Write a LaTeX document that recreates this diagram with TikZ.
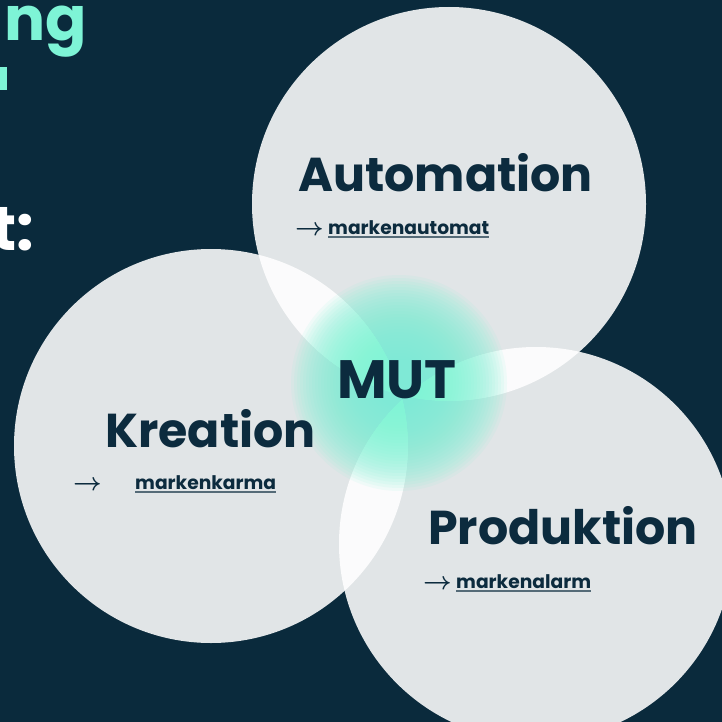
\documentclass[tikz,border=0pt]{standalone}
\usepackage{fontspec}
\setmainfont{Poppins}
\definecolor{navy}{HTML}{0A2A3C}
\definecolor{mint}{HTML}{7EF4D6}
\definecolor{ink}{HTML}{0C2B3E}

\begin{document}
\begin{tikzpicture}[x=1pt, y=-1pt,
    bubble/.style={circle, fill=white, fill opacity=.88, minimum size=394pt, inner sep=0pt},
    head/.style={anchor=base west, inner sep=0pt, text=ink, font=\fontsize{47.5}{48}\selectfont\bfseries},
    link/.style={anchor=base west, inner sep=0pt, text=ink, font=\fontsize{18.7}{19}\selectfont\bfseries},
    arrowtip/.style={anchor=base west, inner sep=0pt, text=ink, font=\fontsize{24}{24}\selectfont\boldmath}]
\useasboundingbox (0,0) rectangle (722,722);
\clip (0,0) rectangle (722,722);
\fill[navy] (0,0) rectangle (722,722);

% cut-off title on the left
\node[anchor=base east, inner sep=0pt, text=mint, font=\fontsize{61}{61}\selectfont\bfseries] (title) at (87,41) {ng};
\fill[mint] (0,67) rectangle (7,90);
\node[anchor=base east, inner sep=0pt, text=white, font=\fontsize{62}{62}\selectfont\bfseries] (colon) at (34,250) {t:};

% the three circles
\foreach \i/\x/\y in {auto/449/204, krea/211/446, prod/536/544} {
    \node[bubble] (\i) at (\x,\y) {};
}

% glow in the middle, built from thin rings
\coordinate (glow) at (399,383);
\foreach \r in {108,105,...,24} {
    \fill[mint, fill opacity=.09] (glow) circle (\r pt);
}

% labels
\node[head] (autohead) at (298,191) {Automation};
\node[arrowtip] (autoarrow) at (295,235) {$\rightarrow$};
\node[link] (autolink) at (328,234) {markenautomat};
\draw[ink!70, line width=1.5pt] ([yshift=-3pt]autolink.base west) -- ([yshift=-3pt]autolink.base east);

\node[head] (kreahead) at (105,447) {Kreation};
\node[arrowtip] (kreaarrow) at (73,490) {$\rightarrow$};
\node[link] (krealink) at (135,489) {markenkarma};
\draw[ink!70, line width=1.5pt] ([yshift=-3pt]krealink.base west) -- ([yshift=-3pt]krealink.base east);

\node[head] (prodhead) at (428,544) {Produktion};
\node[arrowtip] (prodarrow) at (423,589) {$\rightarrow$};
\node[link] (prodlink) at (456,588) {markenalarm};
\draw[ink!70, line width=1.5pt] ([yshift=-3pt]prodlink.base west) -- ([yshift=-3pt]prodlink.base east);

\node[head, font=\fontsize{54}{54}\selectfont\bfseries] (mut) at (337,398) {MUT};
\end{tikzpicture}
\end{document}
